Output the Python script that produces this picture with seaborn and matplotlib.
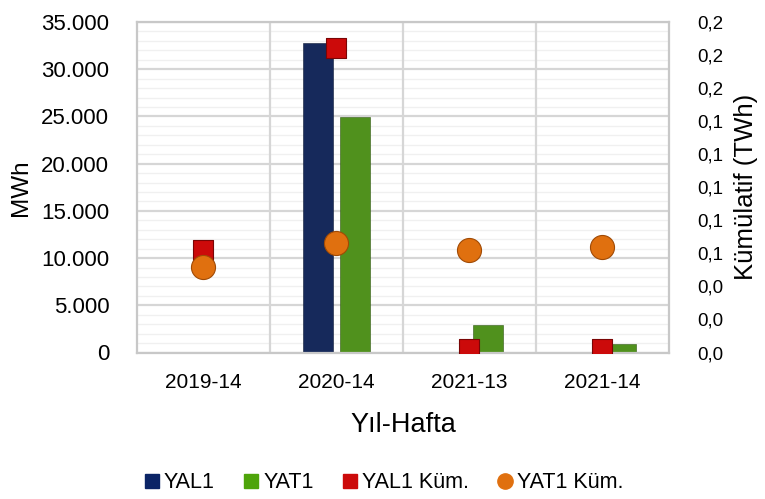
import numpy as np
import pandas as pd
import matplotlib
matplotlib.use("Agg")
import matplotlib.pyplot as plt
from matplotlib.lines import Line2D
from matplotlib.ticker import MultipleLocator, FuncFormatter
import seaborn as sns

categories = ["2019-14", "2020-14", "2021-13", "2021-14"]
yal1 = [0, 32800, 0, 0]
yat1 = [100, 24900, 2950, 900]
yal1_kum = [0.062, 0.184, 0.002, 0.002]
yat1_kum = [0.052, 0.066, 0.062, 0.064]

series_names = ["YAL1", "YAT1", "YAL1 Küm.", "YAT1 Küm."]
c_yal1 = "#0b2466"
c_yat1 = "#4ea40a"
c_red = "#cc0a0a"
c_orange = "#e0700f"

sns.set_theme(style="white")
plt.rcParams["font.family"] = ["Liberation Sans", "DejaVu Sans"]
plt.rcParams["text.color"] = "black"
plt.rcParams["axes.labelcolor"] = "black"
plt.rcParams["xtick.color"] = "black"
plt.rcParams["ytick.color"] = "black"

bars = pd.DataFrame({
    "cat": categories * 2,
    "val": yal1 + yat1,
    "ser": ["YAL1"] * 4 + ["YAT1"] * 4,
})

fig = plt.figure(figsize=(7.65, 4.99), dpi=100)
ax = fig.add_axes([137 / 765, 1 - 352.5 / 499, (669 - 137) / 765, (352.5 - 22) / 499])

# grid
ax.set_ylim(0, 35000)
ax.yaxis.set_major_locator(MultipleLocator(5000))
ax.yaxis.set_minor_locator(MultipleLocator(1000))
ax.grid(axis="y", which="minor", color="#f0f0f0", lw=1.0, zorder=0)
ax.grid(axis="y", which="major", color="#d6d6d6", lw=1.6, zorder=0)
ax.set_axisbelow(True)

sns.barplot(data=bars, x="cat", y="val", hue="ser", order=categories,
            hue_order=["YAL1", "YAT1"], palette=[c_yal1, c_yat1],
            width=0.57, gap=0.21, ax=ax, legend=False, zorder=2,
            edgecolor="#222222", linewidth=0.4)
for patch in ax.patches:
    fc = patch.get_facecolor()
    patch.set_edgecolor(tuple(c * 0.6 for c in fc[:3]) + (1,))

for xv in [0.5, 1.5, 2.5]:
    ax.axvline(xv, color="#d6d6d6", lw=1.6, zorder=1)
ax.set_xlim(-0.5, 3.5)

for sp in ax.spines.values():
    sp.set_color("#c8c8c8")
    sp.set_linewidth(1.6)

ax.yaxis.set_major_formatter(FuncFormatter(lambda v, p: f"{int(v):,}".replace(",", ".")))
ax.tick_params(axis="y", which="both", length=0, labelsize=16, pad=20)
ax.tick_params(axis="x", length=0, labelsize=15, pad=15)
ax.set_xlabel("Yıl-Hafta", fontsize=19.5)
ax.set_ylabel("MWh", fontsize=17.5)
ax.yaxis.set_label_coords(-0.197, 0.5)
ax.xaxis.set_label_coords(0.5, -0.18)

ax2 = ax.twinx()
ax2.set_ylim(0, 0.2)
ax2.yaxis.set_major_locator(MultipleLocator(0.02))
ax2.yaxis.set_major_formatter(FuncFormatter(lambda v, p: f"{v:.1f}".replace(".", ",")))
ax2.tick_params(axis="y", length=0, labelsize=13.5, pad=20)
for sp in ax2.spines.values():
    sp.set_visible(False)
ax2.grid(False)

pos = list(range(len(categories)))
sns.scatterplot(x=pos, y=yat1_kum, marker="o", s=300, color=c_orange,
                edgecolor="#a04a05", linewidth=0.8, ax=ax2, zorder=4)
sns.scatterplot(x=pos, y=yal1_kum, marker="s", s=220, color=c_red,
                edgecolor="#7a0505", linewidth=0.8, ax=ax2, zorder=3)
ax2.set_ylabel("Kümülatif (TWh)", fontsize=18.5)
ax2.yaxis.set_label_coords(1.122, 0.5)
ax2.set_xlim(-0.5, 3.5)

handles = [
    Line2D([], [], marker="s", ls="none", color=c_yal1, markersize=10),
    Line2D([], [], marker="s", ls="none", color=c_yat1, markersize=10),
    Line2D([], [], marker="s", ls="none", color=c_red, markersize=10),
    Line2D([], [], marker="o", ls="none", color=c_orange, markersize=11),
]
fig.legend(handles, series_names, loc="center", bbox_to_anchor=(0.5, 1 - 483 / 499),
           ncol=4, frameon=False, fontsize=15.5, handletextpad=0.05,
           columnspacing=1.2, handlelength=1.0)

fig.savefig("out.png", dpi=100)
